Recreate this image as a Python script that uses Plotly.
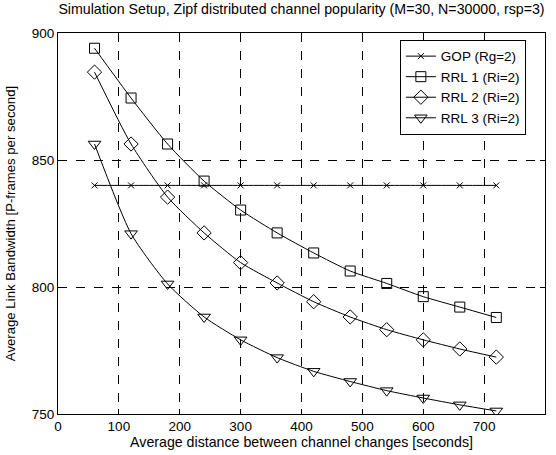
import plotly.graph_objects as go

x_vals = [60, 120, 180, 240, 300, 360, 420, 480, 540, 600, 660, 720]
gop = [840, 840, 840, 840, 840, 840, 840, 840, 840, 840, 840, 840]
rrl1 = [894, 874.4, 856.3, 841.7, 830.3, 821.3, 813.4, 806.3, 801.4, 796.2, 792.1, 788.0]
rrl2 = [884.6, 856.3, 835.4, 821.3, 809.6, 801.6, 794.2, 788.2, 783.2, 779.2, 775.6, 772.4]
rrl3 = [856.3, 821.0, 801.2, 788.2, 779.2, 772.2, 766.8, 762.8, 759.2, 756.3, 753.6, 751.2]

series = [
    ("GOP (Rg=2)", gop, "x-thin-open", 6),
    ("RRL 1 (Ri=2)", rrl1, "square-open", 10),
    ("RRL 2 (Ri=2)", rrl2, "diamond-open", 11),
    ("RRL 3 (Ri=2)", rrl3, "triangle-down-open", 11),
]

TICK_FS = 13.5
TITLE_FS = 14.2

fig = go.Figure()
for name, ys, sym, sz in series:
    fig.add_trace(go.Scatter(
        x=x_vals, y=ys, name=name, mode="lines+markers",
        line=dict(color="black", width=1, shape="spline", smoothing=0.6),
        marker=dict(symbol=sym, size=sz, color="black", line=dict(color="black", width=1)),
    ))

axis_common = dict(
    showline=True, linecolor="black", linewidth=1, mirror="ticks",
    ticks="inside", ticklen=5, tickcolor="black",
    showgrid=True, gridcolor="black", gridwidth=1, griddash="dash",
    zeroline=False, tickfont=dict(size=TICK_FS, color="black"),
    automargin=False,
)

fig.update_xaxes(range=[0, 800], dtick=100, tick0=0,
                 title=dict(text="Average distance between channel changes [seconds]",
                            font=dict(size=TITLE_FS, color="black"), standoff=0),
                 **axis_common)
fig.update_yaxes(range=[750, 900], dtick=50, tick0=750,
                 title=dict(text="Average Link Bandwidth [P-frames per second]",
                            font=dict(size=13.2, color="black"), standoff=13),
                 **axis_common)

fig.update_layout(
    width=556, height=455,
    margin=dict(l=58, r=11, t=33, b=41),
    paper_bgcolor="white", plot_bgcolor="white",
    font=dict(family="Liberation Sans, Arial, sans-serif", size=TICK_FS, color="black"),
    title=dict(text="Simulation Setup, Zipf distributed channel popularity (M=30, N=30000, rsp=3)",
               xref="paper", x=0.5, xanchor="center", y=0.99, yanchor="top",
               font=dict(size=TITLE_FS, color="black"), automargin=False),
    legend=dict(x=0.702, y=0.982, xanchor="left", yanchor="top",
                bgcolor="white", bordercolor="black", borderwidth=1,
                font=dict(size=13.5, color="black"), tracegroupgap=0,
                itemwidth=30),
    showlegend=True,
)

fig.write_html("out.html", config={"displayModeBar": False},
               post_script="document.body.style.margin='0';")
